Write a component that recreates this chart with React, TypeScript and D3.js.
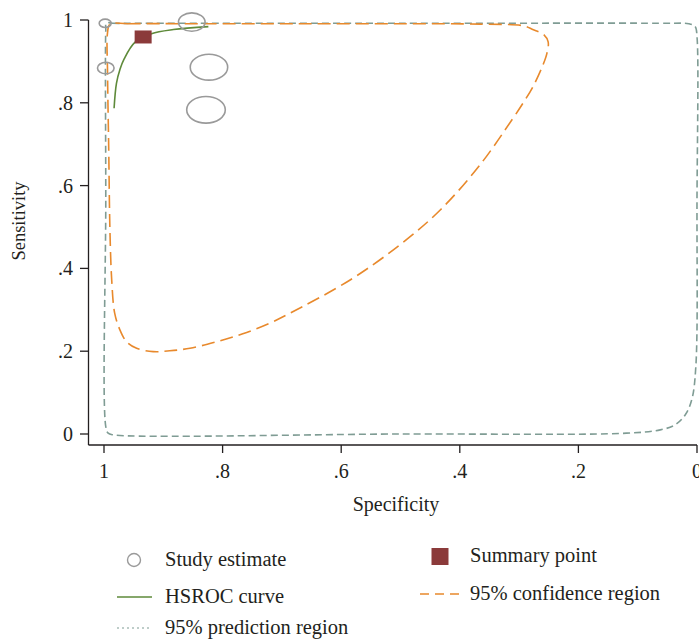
import React from 'react'
import * as d3 from 'd3'

// axis ticks
const xTicks = [1, 0.8, 0.6, 0.4, 0.2, 0]
const yTicks = [0, 0.2, 0.4, 0.6, 0.8, 1]

// study estimates (specificity, sensitivity, weight)
const studySpec = [0.998, 0.852, 0.997, 0.823, 0.828]
const studySens = [0.992, 0.995, 0.884, 0.886, 0.783]
const studyWeight = [36, 177, 69, 350, 372]

// summary point
const summarySpec = 0.934
const summarySens = 0.959

// HSROC curve
const hsrocSpec = [0.983, 0.979, 0.973, 0.966, 0.948, 0.92, 0.883, 0.824]
const hsrocSens = [0.787, 0.847, 0.881, 0.906, 0.946, 0.967, 0.977, 0.984]

// 95% confidence region
const confSpec = [
  0.99, 0.96, 0.838, 0.67, 0.501, 0.366, 0.293, 0.277, 0.258, 0.251, 0.253, 0.261, 0.277,
  0.293, 0.312, 0.366, 0.433, 0.501, 0.585, 0.686, 0.72, 0.766, 0.81, 0.855, 0.889, 0.917,
  0.945, 0.962, 0.973, 0.982, 0.987, 0.99, 0.992, 0.994, 0.994,
]
const confSens = [
  0.99, 0.991, 0.991, 0.991, 0.991, 0.99, 0.986, 0.977, 0.964, 0.947, 0.92, 0.887, 0.838,
  0.8, 0.759, 0.65, 0.541, 0.457, 0.372, 0.292, 0.268, 0.242, 0.223, 0.207, 0.201, 0.199,
  0.207, 0.223, 0.251, 0.292, 0.372, 0.493, 0.686, 0.87, 0.97,
]

// 95% prediction region
const predSpec = [
  0.996, 0.985, 0.95, 0.501, 0.05, 0.014, 0.003, 0.0, 0.0, 0.002, 0.009, 0.02, 0.037, 0.062,
  0.119, 0.501, 0.985, 0.993, 0.997, 0.997, 0.997,
]
const predSens = [
  0.993, 0.992, 0.992, 0.992, 0.992, 0.991, 0.984, 0.96, 0.565, 0.162, 0.082, 0.046, 0.022,
  0.01, 0.002, 0.0, -0.002, 0.002, 0.018, 0.565, 0.975,
]

const font = '"Liberation Serif", "Times New Roman", serif'
const ink = '#231f20'
const green = '#5e8a3a'
const orange = '#e8892c'
const teal = '#7f9c94'
const maroon = '#8b3a3a'
const grey = '#9a9a9a'

const fmt = (v: number) => (v === 0 ? '0' : v === 1 ? '1' : String(v).replace(/^0/, ''))

export default function App() {
  const width = 699
  const height = 640

  const x = d3.scaleLinear().domain([1, 0]).range([104, 697])
  const y = d3.scaleLinear().domain([0, 1]).range([434, 20])
  const r = d3.scaleSqrt().domain([0, 372]).range([0, 19.3])

  const axisX = 88.5
  const axisY = 445

  const pts = (a: number[], b: number[]) => a.map((v, i) => [v, b[i]] as [number, number])

  const curve = d3
    .line<[number, number]>()
    .x(d => x(d[0]))
    .y(d => y(d[1]))
    .curve(d3.curveCatmullRom.alpha(0.5))

  const closed = d3
    .line<[number, number]>()
    .x(d => x(d[0]))
    .y(d => y(d[1]))
    .curve(d3.curveCatmullRomClosed.alpha(0.5))

  return (
    <svg
      width={width}
      height={height}
      style={{ position: 'absolute', left: 0, top: 0, background: '#fff' }}
      fontFamily={font}
    >
      {/* prediction region */}
      <path
        d={closed(pts(predSpec, predSens)) || ''}
        fill="none"
        stroke={teal}
        strokeWidth={1.6}
        strokeDasharray="7,4"
      />
      {/* confidence region */}
      <path
        d={closed(pts(confSpec, confSens)) || ''}
        fill="none"
        stroke={orange}
        strokeWidth={1.6}
        strokeDasharray="13,6"
      />
      {/* HSROC curve */}
      <path d={curve(pts(hsrocSpec, hsrocSens)) || ''} fill="none" stroke={green} strokeWidth={1.6} />

      {/* study estimates */}
      {studySpec.map((s, i) => (
        <ellipse
          key={i}
          cx={x(s)}
          cy={y(studySens[i])}
          rx={r(studyWeight[i])}
          ry={r(studyWeight[i]) * 0.69}
          fill="none"
          stroke={grey}
          strokeWidth={1.6}
        />
      ))}

      {/* summary point */}
      <rect x={x(summarySpec) - 8.5} y={y(summarySens) - 6.5} width={17} height={13} fill={maroon} />

      {/* axes */}
      <line x1={axisX} x2={axisX} y1={y(1)} y2={axisY} stroke={ink} strokeWidth={1.3} />
      <line x1={axisX} x2={x(0)} y1={axisY} y2={axisY} stroke={ink} strokeWidth={1.3} />
      {yTicks.map(t => (
        <g key={t}>
          <line x1={80} x2={axisX} y1={y(t)} y2={y(t)} stroke={ink} strokeWidth={1.3} />
          <text x={73} y={y(t) + 7} textAnchor="end" fontSize={20} fill={ink}>
            {fmt(t)}
          </text>
        </g>
      ))}
      {xTicks.map(t => (
        <g key={t}>
          <line x1={x(t)} x2={x(t)} y1={axisY} y2={axisY + 8} stroke={ink} strokeWidth={1.3} />
          <text x={x(t)} y={478} textAnchor="middle" fontSize={20} fill={ink}>
            {fmt(t)}
          </text>
        </g>
      ))}
      <text x={396} y={511} textAnchor="middle" fontSize={20} fill={ink}>
        Specificity
      </text>
      <text transform="translate(25,221) rotate(-90)" textAnchor="middle" fontSize={18.5} fill={ink}>
        Sensitivity
      </text>

      {/* legend */}
      <circle cx={134} cy={560} r={6.5} fill="none" stroke={grey} strokeWidth={1.4} />
      <text x={165} y={566} fontSize={20.5} fill={ink}>
        Study estimate
      </text>
      <rect x={431.5} y={548} width={17} height={17} fill={maroon} />
      <text x={470} y={562} fontSize={20.5} fill={ink}>
        Summary point
      </text>
      <line x1={117} x2={152} y1={597} y2={597} stroke={green} strokeWidth={1.6} />
      <text x={165} y={603} fontSize={20.5} fill={ink}>
        HSROC curve
      </text>
      <line x1={420} x2={461} y1={594} y2={594} stroke={orange} strokeWidth={1.4} strokeDasharray="9,6" />
      <text x={470} y={600} fontSize={20.5} fill={ink}>
        95% confidence region
      </text>
      <line x1={117} x2={152} y1={628} y2={628} stroke={teal} strokeWidth={1.2} strokeDasharray="2,3" />
      <text x={165} y={634} fontSize={20.5} fill={ink}>
        95% prediction region
      </text>
    </svg>
  )
}
